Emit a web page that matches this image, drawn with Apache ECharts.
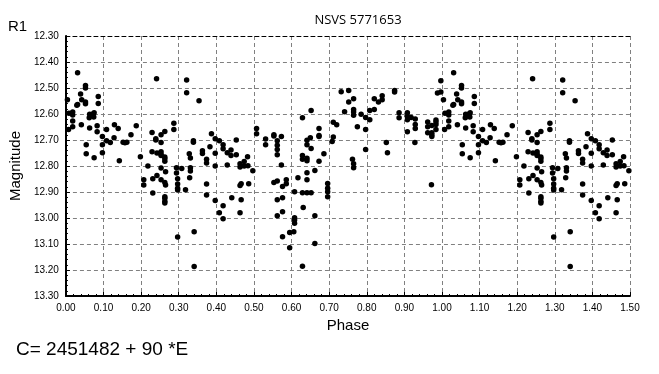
<!DOCTYPE html>
<html><head><meta charset="utf-8">
<script src="https://cdn.jsdelivr.net/npm/echarts@6/dist/echarts.min.js"></script>
<style>html,body{margin:0;padding:0;background:#fff}#c{width:659px;height:374px}</style>
</head><body><div id="c"></div>
<script>
const chartTitle = 'NSVS 5771653';
const filterName = 'R1';
const ephemeris = 'C= 2451482 + 90 *E';
const xName = 'Phase';
const yName = 'Magnitude';
const xRange = [0, 1.5];
const yRange = [12.3, 13.3];
const tickStep = 0.1;
// observations: [phase, magnitude] over one cycle (0..1)
const observations = [
[0.031,12.441],[0.052,12.490],[0.052,12.500],[0.039,12.523],[0.086,12.533],[0.004,12.545],[0.042,12.545],
[0.031,12.563],[0.029,12.566],[0.052,12.554],[0.052,12.561],[0.086,12.560],[0.008,12.597],[0.018,12.592],
[0.018,12.604],[0.075,12.595],[0.070,12.601],[0.063,12.601],[0.062,12.614],[0.074,12.612],[0.018,12.627],
[0.041,12.641],[0.018,12.649],[0.007,12.660],[0.063,12.654],[0.083,12.645],[0.083,12.668],[0.108,12.660],
[0.129,12.641],[0.139,12.656],[0.187,12.645],[0.173,12.680],[0.097,12.687],[0.108,12.703],[0.118,12.710],
[0.128,12.691],[0.152,12.709],[0.157,12.711],[0.162,12.709],[0.054,12.718],[0.097,12.718],[0.054,12.753],
[0.075,12.768],[0.097,12.749],[0.142,12.780],[0.198,12.764],
[0.241,12.464],[0.321,12.469],[0.321,12.518],[0.354,12.549],[0.287,12.636],[0.287,12.660],[0.229,12.671],
[0.253,12.680],[0.263,12.667],[0.239,12.695],[0.239,12.700],[0.253,12.710],[0.339,12.703],[0.339,12.709],
[0.387,12.676],[0.397,12.695],[0.383,12.726],[0.229,12.745],[0.242,12.750],[0.253,12.745],[0.253,12.755],
[0.253,12.760],[0.263,12.765],[0.263,12.772],[0.263,12.782],[0.328,12.753],[0.331,12.769],[0.363,12.741],
[0.363,12.752],[0.374,12.774],[0.374,12.788],[0.397,12.751],[0.397,12.800],[0.218,12.800],[0.253,12.808],
[0.265,12.822],[0.294,12.807],[0.294,12.827],[0.308,12.810],[0.331,12.807],[0.331,12.819],[0.207,12.853],
[0.207,12.873],[0.231,12.849],[0.242,12.837],[0.253,12.853],[0.263,12.863],[0.265,12.873],[0.297,12.849],
[0.297,12.869],[0.297,12.886],[0.297,12.892],[0.318,12.891],[0.329,12.845],[0.374,12.869],[0.231,12.904],
[0.263,12.918],[0.263,12.924],[0.263,12.936],[0.263,12.942],[0.374,12.912],[0.397,12.933],[0.341,13.053],
[0.297,13.073],[0.341,13.187],
[0.507,12.656],[0.507,12.676],[0.408,12.703],[0.453,12.700],[0.531,12.696],[0.531,12.718],[0.553,12.680],
[0.553,12.685],[0.573,12.687],[0.562,12.703],[0.562,12.720],[0.562,12.737],[0.562,12.757],[0.418,12.718],
[0.418,12.734],[0.429,12.749],[0.439,12.738],[0.439,12.760],[0.453,12.757],[0.483,12.764],[0.474,12.783],
[0.463,12.791],[0.463,12.804],[0.474,12.800],[0.484,12.799],[0.429,12.796],[0.497,12.818],[0.573,12.796],
[0.466,12.868],[0.463,12.875],[0.486,12.868],[0.553,12.863],[0.562,12.858],[0.586,12.853],[0.586,12.868],
[0.576,12.879],[0.608,12.899],[0.441,12.922],[0.466,12.930],[0.418,12.953],[0.408,12.980],[0.418,13.003],
[0.463,12.980],[0.562,12.930],[0.576,12.922],[0.576,12.976],[0.562,12.991],[0.608,12.999],[0.608,13.008],
[0.608,13.020],[0.606,13.053],[0.595,13.056],[0.576,13.072],[0.595,13.114],
[0.732,12.514],[0.752,12.510],[0.765,12.541],[0.752,12.554],[0.652,12.587],[0.741,12.591],[0.765,12.583],
[0.765,12.592],[0.765,12.605],[0.785,12.601],[0.797,12.613],[0.808,12.587],[0.808,12.622],[0.629,12.614],
[0.711,12.632],[0.720,12.641],[0.775,12.649],[0.797,12.660],[0.673,12.656],[0.673,12.683],[0.673,12.687],
[0.650,12.691],[0.641,12.701],[0.641,12.718],[0.711,12.688],[0.708,12.706],[0.652,12.733],[0.797,12.737],
[0.686,12.753],[0.629,12.760],[0.629,12.774],[0.641,12.770],[0.641,12.780],[0.673,12.782],[0.762,12.774],
[0.765,12.791],[0.765,12.807],[0.662,12.817],[0.641,12.826],[0.617,12.845],[0.641,12.853],[0.696,12.867],
[0.696,12.886],[0.696,12.899],[0.696,12.918],[0.629,12.903],[0.641,12.903],[0.652,12.903],[0.631,12.960],
[0.662,12.991],[0.662,13.098],[0.629,13.186],
[0.997,12.472],[0.874,12.510],[0.874,12.515],[0.988,12.519],[0.997,12.515],[0.841,12.530],[0.841,12.545],
[0.820,12.541],[0.831,12.554],[0.820,12.583],[0.886,12.595],[0.886,12.614],[0.908,12.595],[0.908,12.610],
[0.908,12.622],[0.918,12.613],[0.929,12.619],[0.929,12.640],[0.929,12.656],[0.908,12.668],[0.962,12.631],
[0.962,12.649],[0.962,12.672],[0.973,12.644],[0.973,12.672],[0.973,12.680],[0.973,12.687],[0.984,12.623],
[0.984,12.631],[0.984,12.640],[0.984,12.660],[0.852,12.710],[0.855,12.749],[0.928,12.710],[0.972,12.872]
];
// the plot repeats each observation one cycle later
const cycleOffsets = [0, 1];

const points = [];
cycleOffsets.forEach(function (o) {
  observations.forEach(function (p) {
    const ph = +(p[0] + o).toFixed(3);
    if (ph <= xRange[1]) points.push([ph, p[1]]);
  });
});

const font = '"Liberation Sans", Arial, sans-serif';
const chart = echarts.init(document.getElementById('c'), null, {renderer: 'canvas'});
const gridLine = {show: true, lineStyle: {color: '#808080', type: [4, 3], width: 1}};
const border = {show: true, lineStyle: {color: '#000', type: [4, 3], width: 1}};
chart.setOption({
  animation: false,
  backgroundColor: '#fff',
  title: {
    text: chartTitle, left: 353, top: 9, textAlign: 'center',
    textStyle: {fontFamily: 'Open Sans', fontSize: 13, fontWeight: 'normal', color: '#000'}
  },
  grid: {left: 60, right: 29, top: 36, bottom: 78},
  graphic: [
    {type: 'text', left: 8, top: 19, style: {text: filterName, font: '15px ' + font, fill: '#000'}},
    {type: 'text', left: 16, top: 340, style: {text: ephemeris, font: '19px ' + font, fill: '#000'}}
  ],
  xAxis: [{
    type: 'value', min: xRange[0], max: xRange[1], interval: tickStep, position: 'bottom',
    name: xName, nameLocation: 'middle', nameGap: 21,
    nameTextStyle: {fontFamily: font, fontSize: 15, color: '#000'},
    axisLine: {show: true, onZero: false, lineStyle: {color: '#000', width: 2}},
    axisTick: {show: true, inside: true, length: 4, lineStyle: {color: '#000'}},
    minorTick: {show: true, splitNumber: 5, length: 2, lineStyle: {color: '#000'}},
    axisLabel: {formatter: function (v) { return v.toFixed(2); }, fontFamily: font, fontSize: 10, color: '#000', margin: 7},
    splitLine: gridLine
  }, {
    type: 'value', min: xRange[0], max: xRange[1], position: 'top',
    axisLine: border, axisTick: {show: false}, axisLabel: {show: false}, splitLine: {show: false}
  }],
  yAxis: [{
    type: 'value', min: yRange[0], max: yRange[1], interval: tickStep, inverse: true, position: 'left',
    name: yName, nameLocation: 'middle', nameGap: 38,
    nameTextStyle: {fontFamily: font, fontSize: 15, color: '#000'},
    axisLine: {show: true, onZero: false, lineStyle: {color: '#000', width: 2}},
    axisTick: {show: true, inside: true, length: 4, lineStyle: {color: '#000'}},
    minorTick: {show: true, splitNumber: 5, length: 2, lineStyle: {color: '#000'}},
    axisLabel: {formatter: function (v) { return v.toFixed(2); }, fontFamily: font, fontSize: 10, color: '#000', margin: 7},
    splitLine: gridLine
  }, {
    type: 'value', min: yRange[0], max: yRange[1], inverse: true, position: 'right',
    axisLine: border, axisTick: {show: false}, axisLabel: {show: false}, splitLine: {show: false}
  }],
  series: [{
    type: 'scatter', xAxisIndex: 0, yAxisIndex: 0, data: points,
    symbol: 'circle', symbolSize: 5.5, itemStyle: {color: '#000', opacity: 1}
  }]
});
</script></body></html>
